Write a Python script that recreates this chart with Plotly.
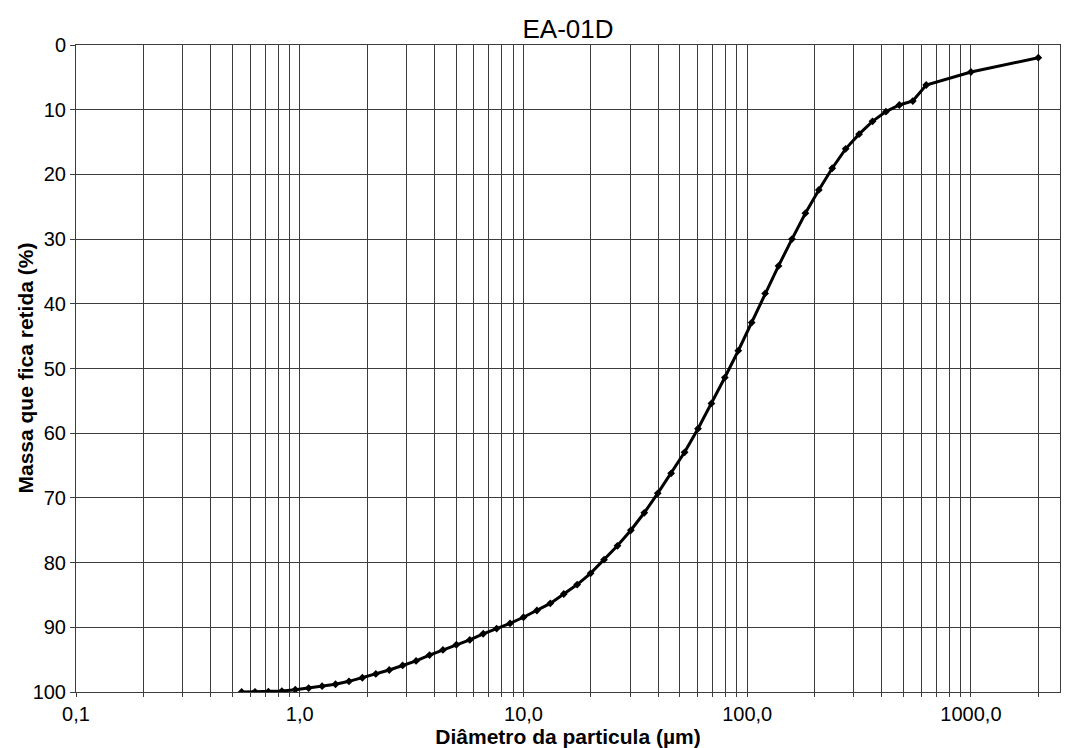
import plotly.graph_objects as go

# Particle diameter (µm) and cumulative mass retained (%)
diametro = [0.55, 0.631, 0.724, 0.832, 0.955, 1.096, 1.259, 1.445, 1.66, 1.905,
            2.188, 2.512, 2.884, 3.311, 3.802, 4.365, 5.012, 5.754, 6.607, 7.586,
            8.71, 10.0, 11.48, 13.18, 15.14, 17.38, 19.95, 22.91, 26.3, 30.2,
            34.67, 39.81, 45.71, 52.48, 60.26, 69.18, 79.43, 91.2, 104.7, 120.2,
            138.0, 158.5, 182.0, 208.9, 239.9, 275.4, 316.2, 363.1, 416.9, 478.6,
            549.5, 631.0, 1000.0, 2000.0]
massa_retida = [100.0, 99.98, 99.95, 99.85, 99.65, 99.4, 99.1, 98.8, 98.35, 97.8,
                97.2, 96.6, 95.9, 95.2, 94.3, 93.5, 92.7, 91.95, 91.0, 90.2,
                89.4, 88.45, 87.4, 86.3, 84.85, 83.4, 81.65, 79.55, 77.4, 75.0,
                72.3, 69.3, 66.2, 62.95, 59.3, 55.4, 51.4, 47.25, 42.9, 38.4,
                34.15, 30.0, 26.0, 22.4, 19.05, 16.05, 13.78, 11.8, 10.3, 9.27,
                8.66, 6.18, 4.17, 1.96]

# Axis ticks
x_grid = [0.1, 0.2, 0.3, 0.4, 0.5, 0.6, 0.7, 0.8, 0.9,
          1, 2, 3, 4, 5, 6, 7, 8, 9,
          10, 20, 30, 40, 50, 60, 70, 80, 90,
          100, 200, 300, 400, 500, 600, 700, 800, 900,
          1000, 2000]
x_labels = {0.1: "0,1", 1: "1,0", 10: "10,0", 100: "100,0", 1000: "1000,0"}
y_ticks = [0, 10, 20, 30, 40, 50, 60, 70, 80, 90, 100]

L, R, T, B = 76, 20, 45, 56
W, H = 1080, 748

fig = go.Figure()
fig.add_trace(go.Scatter(
    x=diametro, y=massa_retida, mode="lines+markers",
    line=dict(color="black", width=3),
    marker=dict(symbol="diamond", size=6, color="black"),
    showlegend=False,
))

grid_color = "#3c3c3c"
fig.update_layout(
    width=W, height=H,
    margin=dict(l=L, r=R, t=T, b=B),
    paper_bgcolor="white", plot_bgcolor="white",
    font=dict(family="Liberation Sans, Arial, sans-serif", color="black", size=20),
    title=dict(text="EA-01D", x=(L + W - R) / 2 / W, xanchor="center",
               y=1 - 29 / H, yanchor="middle",
               font=dict(size=26, color="black")),
)
fig.update_xaxes(
    type="log", range=[-1, 3.398], automargin=False,
    tickmode="array", tickvals=x_grid,
    ticktext=[x_labels.get(v, "") for v in x_grid],
    showgrid=True, gridcolor=grid_color, gridwidth=1,
    ticks="outside", ticklen=4, tickcolor=grid_color,
    showline=True, linecolor=grid_color, mirror=True,
    tickfont=dict(size=20),
    title=dict(text="<b>Diâmetro da particula (µm)</b>", font=dict(size=21), standoff=2),
    zeroline=False,
)
fig.update_yaxes(
    range=[100, 0], tickmode="array", tickvals=y_ticks, automargin=False,
    showgrid=True, gridcolor=grid_color, gridwidth=1,
    ticks="outside", ticklen=5, tickcolor=grid_color,
    showline=True, linecolor=grid_color, mirror=True,
    tickfont=dict(size=20),
    zeroline=False,
)
plot_w = W - L - R
fig.add_annotation(
    text="<b>Massa que fica retida (%)</b>", textangle=-90,
    xref="paper", yref="paper", x=(25 - L) / plot_w, y=0.5,
    xanchor="center", yanchor="middle", showarrow=False,
    font=dict(size=21, color="black"),
)

fig.write_html("out.html", config={"displayModeBar": False},
               post_script="document.body.style.margin='0';")
